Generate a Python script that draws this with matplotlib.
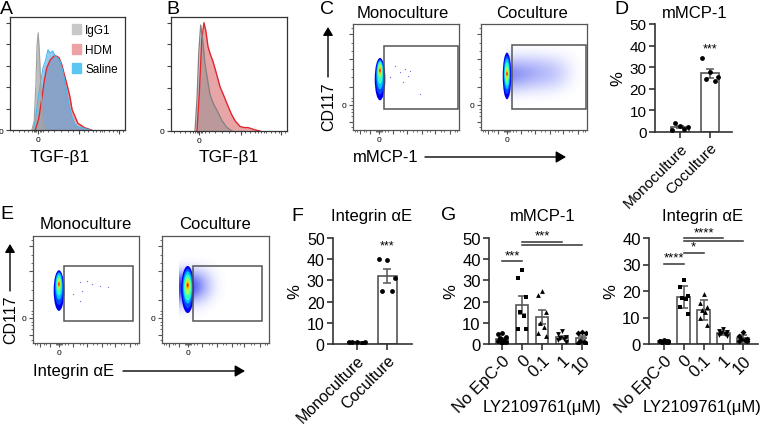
import numpy as np
import matplotlib
matplotlib.use("Agg")
import matplotlib.pyplot as plt
from matplotlib.patches import Ellipse, Rectangle, Patch, FancyArrowPatch
from matplotlib.colors import LinearSegmentedColormap

plt.rcParams['font.family'] = ['Liberation Sans', 'DejaVu Sans']

W, H = 763, 427

# ---------------- histogram data (A, B) : x, y in % of axis ----------------
igg_a_x = [19, 21, 22.5, 23.5, 24.5, 25.5, 27, 28.5, 30, 32]
igg_a_y = [0, 8, 40, 75, 86, 70, 35, 10, 2, 0]
saline_a_x = [20, 22, 24, 26, 28.7, 31, 33, 35, 37, 39, 41, 43.5, 46, 48, 50, 52, 54, 56.5, 59, 62.6, 66, 70]
saline_a_y = [0, 8, 25, 38, 55, 62, 71, 68, 70, 66, 64, 61, 52, 41, 30, 19, 11, 5, 3, 2, 1, 0]
hdm_a_x = [22, 25, 28, 30, 32, 35, 37, 39, 41, 42.6, 45, 47, 49.6, 52, 54, 56.5, 59, 62, 65, 68, 71]
hdm_a_y = [0, 10, 30, 45, 55, 62, 64, 66, 65, 64, 58, 50, 40, 30, 18, 12, 6, 4, 2, 1, 0]

igg_b_x = [20.7, 22.5, 24, 25.6, 27.5, 29.3, 31.5, 33.6, 36.5, 39.7, 44, 48.3, 52.6]
igg_b_y = [0, 30, 70, 93, 78, 59, 45, 32, 24, 18, 9, 3, 0]
hdm_b_x = [22.4, 24.5, 26.5, 28.4, 30, 31.9, 34, 36.2, 39, 42.2, 45.5, 49.1, 52, 55.2, 59.5, 63, 66.4, 72.4, 76.7]
hdm_b_y = [0, 35, 80, 95, 88, 74, 67, 61, 51, 39, 31, 22, 15, 9, 4, 3, 3, 1, 0]

# ---------------- flow dot plots (C, E) ----------------
# density levels of the main population (jet colour), ellipse width, height, centre y
blob_levels = [0.1, 0.2, 0.32, 0.42, 0.55, 0.7, 0.88]
c_mono_w = [10, 8, 6.5, 5, 3.5, 2.2, 1.3]
c_mono_h = [40, 33, 27, 21, 13, 7, 3.5]
c_mono_cy = [48, 50, 52, 54, 56, 56, 56]
c_co_w = [8, 6.5, 5.4, 4.4, 3.3, 2.2, 1.3]
c_co_h = [44, 36, 29, 22, 14, 7, 3.5]
c_co_cy = [51, 52, 53, 53, 53, 53, 53]
e_mono_w = [10, 8, 6.5, 5, 3.5, 2.2, 1.3]
e_mono_h = [38, 31, 25, 19, 12, 6.5, 3.5]
e_mono_cy = [49, 51, 53, 54, 55, 55, 55]
e_co_w = [12, 10, 8.5, 7, 5, 3.2, 1.8]
e_co_h = [44, 37, 30, 24, 16, 9, 4]
e_co_cy = [50, 51, 52, 52, 53, 54, 54]

# sparse single events
c_mono_dots_x = [44.3, 49, 53.8, 51.9, 47, 63, 35, 40]
c_mono_dots_y = [54.4, 57.5, 56, 51.2, 45, 34, 49.7, 60]
e_mono_dots_x = [44.3, 50.6, 55.3, 45.9, 44.3, 71, 63.2, 38]
e_mono_dots_y = [56.7, 58.2, 55.1, 48.9, 39.5, 52, 53.5, 46]

# density of the spread population (rows top -> bottom)
c_co_spread = [
    [0.00, 0.00, 0.00, 0.00, 0.00, 0.00, 0.00, 0.00, 0.00],
    [0.08, 0.10, 0.10, 0.09, 0.08, 0.06, 0.04, 0.01, 0.00],
    [0.45, 0.46, 0.44, 0.40, 0.35, 0.28, 0.18, 0.06, 0.00],
    [0.75, 0.68, 0.62, 0.56, 0.50, 0.42, 0.26, 0.08, 0.00],
    [0.65, 0.58, 0.52, 0.46, 0.40, 0.33, 0.20, 0.05, 0.00],
    [0.25, 0.22, 0.18, 0.15, 0.13, 0.10, 0.05, 0.01, 0.00],
    [0.00, 0.00, 0.00, 0.00, 0.00, 0.00, 0.00, 0.00, 0.00],
]
e_co_spread = [
    [0.00, 0.00, 0.00, 0.00, 0.00, 0.00, 0.00],
    [0.15, 0.20, 0.15, 0.10, 0.04, 0.00, 0.00],
    [0.80, 0.75, 0.60, 0.38, 0.12, 0.02, 0.00],
    [1.00, 0.95, 0.80, 0.52, 0.18, 0.03, 0.00],
    [1.00, 0.90, 0.72, 0.46, 0.15, 0.02, 0.00],
    [0.60, 0.48, 0.34, 0.18, 0.05, 0.00, 0.00],
    [0.15, 0.10, 0.06, 0.03, 0.00, 0.00, 0.00],
    [0.00, 0.00, 0.00, 0.00, 0.00, 0.00, 0.00],
]

# ---------------- bar chart data ----------------
d_labels = ['Monoculture', 'Coculture']
d_mono = [1.0, 3.0, 2.2, 4.0, 1.3]
d_co = [34.2, 27.9, 25.5, 24.5, 23.4]
f_mono = [0.9, 1.0, 0.8, 1.1, 0.7]
f_co = [40.1, 39.6, 31.1, 24.8, 24.8]

g_labels = ['No EpC-0', '0', '0.1', '1', '10']
g_mmcp = [
    [5.0, 4.5, 3.5, 3.0, 2.0, 1.5, 1.0, 0.8, 2.5, 1.2, 0.5],
    [35, 31, 22, 15, 13, 7, 7],
    [25, 23, 15, 10, 8, 5, 4],
    [6, 4.5, 3.5, 3, 2.5, 2, 1],
    [5.5, 5, 5, 1.5, 1, 0.7, 0.5],
]
g_itg = [
    [1.5, 1.2, 1.0, 0.8, 0.9, 1.1, 0.6, 1.3, 0.7, 1.0],
    [24, 21.5, 18, 17.5, 17, 14, 11.5],
    [19, 15.5, 14, 13, 12, 10, 7],
    [5.5, 5, 4.5, 4, 3.8, 3.5, 3],
    [4.5, 3, 2, 1.8, 1.5, 1.2, 1],
]
g_markers = ['o', 's', '^', 'v', 'D']

fig = plt.figure(figsize=(W / 100, H / 100), dpi=100)


def ax_px(l, t, r, b):
    return fig.add_axes([l / W, 1 - b / H, (r - l) / W, (b - t) / H])


def txt(x, y, s, **kw):
    fig.text(x / W, 1 - y / H, s, **kw)


def arrow(x0, y0, x1, y1, hl=5, hw=3):
    fig.add_artist(FancyArrowPatch((x0 / W, 1 - y0 / H), (x1 / W, 1 - y1 / H), transform=fig.transFigure,
                                   arrowstyle='-|>,head_length=%g,head_width=%g' % (hl, hw),
                                   color='black', lw=1, shrinkA=0, shrinkB=0))


def flow_frame(ax, xt, yt, x0, y0):
    ax.set_xlim(0, 100)
    ax.set_ylim(0, 100)
    for s in ax.spines.values():
        s.set_color('#555555')
        s.set_linewidth(0.9)
    ax.set_xticks(xt)
    ax.set_xticklabels(['0' if v == x0 else '' for v in xt], fontsize=6)
    ax.set_yticks(yt)
    ax.set_yticklabels(['0' if v == y0 else '' for v in yt], fontsize=6)
    minor_x = [x0 - 3, x0 - 2, x0 - 1, x0 + 1, x0 + 2, x0 + 3, 2, 4, 10, 12, 30, 33, 44, 47, 57, 60, 70, 73, 83, 86, 96, 98]
    ax.set_xticks(minor_x, minor=True)
    ax.set_yticks([3, 13, 17, 20, 27, 30, 50, 58, 75, 82, 96], minor=True)
    ax.tick_params(which='major', direction='out', length=3, width=0.8, colors='#555555', pad=1.5,
                   labelcolor='black')
    ax.tick_params(which='minor', direction='out', length=1.6, width=0.6, colors='#555555')


# ---------------- A ----------------
axA = ax_px(10, 18, 125, 131)
axA.fill_between(hdm_a_x, hdm_a_y, color='#e08c90', alpha=0.75, lw=0)
axA.plot(hdm_a_x, hdm_a_y, color='#e0262e', lw=1)
axA.fill_between(saline_a_x, saline_a_y, color='#3a9ee0', alpha=0.55, lw=0)
axA.plot(saline_a_x, saline_a_y, color='#45b8ef', lw=0.8)
axA.fill_between(igg_a_x, igg_a_y, color='#a8a8a8', alpha=0.75, lw=0)
axA.plot(igg_a_x, igg_a_y, color='#a0a0a0', lw=0.8)
axA.legend(handles=[Patch(color='#c8c8c8', label='IgG1'), Patch(color='#eda3a6', label='HDM'),
                    Patch(color='#5cc6f2', label='Saline')],
           loc='upper right', frameon=False, fontsize=8.5, handlelength=0.8, handleheight=0.9,
           handletextpad=0.35, labelspacing=0.65, borderaxespad=0.2)

# ---------------- B ----------------
axB = ax_px(171, 18, 287, 132)
axB.fill_between(hdm_b_x, hdm_b_y, color='#e59599', alpha=0.85, lw=0)
axB.plot(hdm_b_x, hdm_b_y, color='#e0262e', lw=1)
axB.fill_between(igg_b_x, igg_b_y, color='#8f8f8f', alpha=0.5, lw=0)
axB.plot(igg_b_x, igg_b_y, color='#808080', lw=0.9)

for ax in (axA, axB):
    ax.set_xlim(0, 100)
    ax.set_ylim(0, 100)
    for s in ax.spines.values():
        s.set_color('#333333')
        s.set_linewidth(0.9)
    ax.set_xticks([24.5, 60, 95])
    ax.set_xticklabels(['0', '', ''], fontsize=6)
    ax.set_xticks([3, 8, 12, 16, 19, 21, 22, 23, 26, 27, 29, 33, 38, 44, 50, 55, 64, 68, 72, 75, 78, 80,
                   82, 86, 90, 93, 98], minor=True)
    ax.set_yticks([0, 19, 38, 57, 76, 95])
    ax.set_yticklabels(['0', '', '', '', '', ''], fontsize=6)
    ax.tick_params(which='major', direction='out', length=3, width=0.8, colors='#444444', labelcolor='black', pad=1.5)
    ax.tick_params(which='minor', direction='out', length=1.6, width=0.6, colors='#444444')

txt(30, 158, 'TGF-β1', fontsize=12.5, va='center')
txt(199, 158, 'TGF-β1', fontsize=12.5, va='center')

# ---------------- flow plots ----------------
haze = LinearSegmentedColormap.from_list('haze', [(0.3, 0.35, 1.0, 0.0), (0.25, 0.3, 0.95, 0.4),
                                                  (0.05, 0.1, 0.9, 0.85)])


def draw_blob(ax, cx, ws, hs, cys):
    for lev, w, h, cy in zip(blob_levels, ws, hs, cys):
        ax.add_patch(Ellipse((cx, cy), w, h, color=plt.cm.jet(lev), lw=0, zorder=3))


def gate(ax, x0, x1, y0, y1):
    ax.add_patch(Rectangle((x0, y0), x1 - x0, y1 - y0, fill=False, ec='#555555', lw=1.1, zorder=4))


flow_xt = [6.6, 16, 24.5, 37.7, 51, 65, 77, 91.5]
flow_yt = [7.5, 23.6, 40.6, 67, 90.6]

axC1 = ax_px(353, 25, 459, 131)
flow_frame(axC1, flow_xt, flow_yt, 24.5, 23.6)
axC1.scatter(c_mono_dots_x, c_mono_dots_y, s=0.8, color='#7070d8', lw=0, zorder=2)
draw_blob(axC1, 25.5, c_mono_w, c_mono_h, c_mono_cy)
gate(axC1, 29, 99, 20, 79)

axC2 = ax_px(481, 25, 587, 131)
flow_frame(axC2, flow_xt, flow_yt, 24.5, 23.6)
axC2.imshow(c_co_spread, extent=(24, 100, 24, 86), cmap=haze, vmin=0, vmax=1,
            interpolation='bicubic', aspect='auto', zorder=2)
draw_blob(axC2, 24.5, c_co_w, c_co_h, c_co_cy)
gate(axC2, 29.2, 99, 20, 80)

axE1 = ax_px(33, 237, 139, 344)
flow_frame(axE1, flow_xt, flow_yt, 24.5, 23.6)
axE1.scatter(e_mono_dots_x, e_mono_dots_y, s=0.8, color='#7070d8', lw=0, zorder=2)
draw_blob(axE1, 24.5, e_mono_w, e_mono_h, e_mono_cy)
gate(axE1, 29, 94, 20.5, 72)

axE2 = ax_px(162, 237, 269, 344)
flow_frame(axE2, flow_xt, flow_yt, 24.5, 23.6)
axE2.imshow(e_co_spread, extent=(16, 66, 20, 82), cmap=haze, vmin=0, vmax=1,
            interpolation='bicubic', aspect='auto', zorder=2)
draw_blob(axE2, 24, e_co_w, e_co_h, e_co_cy)
gate(axE2, 29, 93, 20.5, 72)

for ax in (axC1, axC2, axE1, axE2):
    ax.set_xlim(0, 100)
    ax.set_ylim(0, 100)

txt(403, 13, 'Monoculture', fontsize=12, ha='center', va='center')
txt(532, 13, 'Coculture', fontsize=12, ha='center', va='center')
txt(86, 225, 'Monoculture', fontsize=12, ha='center', va='center')
txt(215, 225, 'Coculture', fontsize=12, ha='center', va='center')

# axis names with arrows
txt(329, 131, 'CD117', fontsize=11.5, rotation=90, ha='center', va='bottom')
arrow(328, 78, 328, 28, 5, 3)
txt(353, 158, 'mMCP-1', fontsize=12, va='center')
arrow(425, 158, 566, 158, 6, 3.5)

txt(11, 344, 'CD117', fontsize=11.5, rotation=90, ha='center', va='bottom')
arrow(10, 292, 10, 245, 5, 3)
txt(33, 372, 'Integrin αE', fontsize=12, va='center')
arrow(123, 372, 245, 372, 6, 3.5)


# ---------------- bar charts ----------------
def bar_panel(ax, groups, labels, markers, ymax, ystep, xlim, width, jit, err, fs, xfs):
    for i, vals in enumerate(groups):
        vals = np.asarray(vals, float)
        m = vals.mean()
        e = vals.std(ddof=1)
        if err == 'sem':
            e = e / np.sqrt(len(vals))
        ax.bar(i, m, width=width, color='white', edgecolor='#555555', lw=1.2, zorder=1)
        ax.errorbar(i, m, yerr=e, color='#555555', capsize=3, capthick=1.1, elinewidth=1.1, zorder=2)
        offs = np.resize(jit, len(vals)) * width
        ax.scatter(i + offs, vals, marker=markers[i], s=12 if markers[i] != 'D' else 9,
                   color='black', lw=0, zorder=3)
    ax.set_xlim(*xlim)
    ax.set_ylim(0, ymax)
    ax.set_yticks(np.arange(0, ymax + 0.1, ystep))
    ax.set_xticks(range(len(groups)))
    ax.set_xticklabels(labels, rotation=45, ha='right', rotation_mode='anchor', fontsize=xfs)
    for s in ('top', 'right'):
        ax.spines[s].set_visible(False)
    for s in ('left', 'bottom'):
        ax.spines[s].set_linewidth(1.2)
        ax.spines[s].set_color('#333333')
    ax.tick_params(direction='out', length=4, width=1.2, colors='#333333', labelcolor='black',
                   labelsize=fs, pad=2)
    ax.set_ylabel('%', fontsize=12, labelpad=3)


jit_two = [-0.42, 0.0, 0.42, -0.25, 0.25]
axD = ax_px(655, 25, 732, 133)
bar_panel(axD, [d_mono, d_co], d_labels, ['o', 'o'], 50, 10, (-0.83, 1.73), 0.6, jit_two, 'sem', 11, 11)
axD.text(1, 38.5, '***', ha='center', va='center', fontsize=9)
txt(695, 13, 'mMCP-1', fontsize=12, ha='center', va='center')

axF = ax_px(333, 239, 412, 345)
bar_panel(axF, [f_mono, f_co], d_labels, ['o', 'o'], 50, 10, (-0.8, 1.83), 0.63, jit_two, 'sem', 11.5, 11.5)
axF.text(1, 46.5, '***', ha='center', va='center', fontsize=9)
txt(372, 217, 'Integrin αE', fontsize=12, ha='center', va='center')

jit_g = [0.0, -0.3, 0.3, -0.15, 0.15, -0.3, 0.3, 0.0, -0.15, 0.15, 0.0]
axG1 = ax_px(489, 239, 587, 345)
bar_panel(axG1, g_mmcp, g_labels, g_markers, 50, 10, (-0.65, 4.25), 0.6, jit_g, 'sem', 12, 12)
txt(543, 217, 'mMCP-1', fontsize=12, ha='center', va='center')
axG2 = ax_px(649, 239, 758, 345)
bar_panel(axG2, g_itg, g_labels, g_markers, 40, 10, (-0.76, 4.76), 0.65, jit_g, 'sd', 12, 12)
txt(703, 217, 'Integrin αE', fontsize=12, ha='center', va='center')


def sig(ax, x0, x1, y, s):
    ax.plot([x0, x1], [y, y], color='#333333', lw=1.1, clip_on=False)
    if s:
        ax.text((x0 + x1) / 2, y, s, ha='center', va='bottom', fontsize=9.5)


sig(axG1, 0, 1, 39, '***')
sig(axG1, 1, 3, 48.3, '***')
sig(axG1, 1, 4, 46.5, '')
sig(axG2, 0, 1, 30.3, '****')
sig(axG2, 1, 2, 34.4, '*')
sig(axG2, 1, 3, 40, '****')
sig(axG2, 1, 4, 38.8, '')

txt(542, 408, 'LY2109761(μM)', fontsize=12, ha='center', va='center')
txt(702, 408, 'LY2109761(μM)', fontsize=12, ha='center', va='center')

# ---------------- panel letters ----------------
for s, x, y in [('A', 0, 10), ('B', 166, 10), ('C', 320, 9), ('D', 614, 9),
                ('E', 0, 215), ('F', 291, 217), ('G', 441, 216)]:
    txt(x, y, s, fontsize=14, va='center', ha='left')

fig.savefig('out.png', dpi=100)
